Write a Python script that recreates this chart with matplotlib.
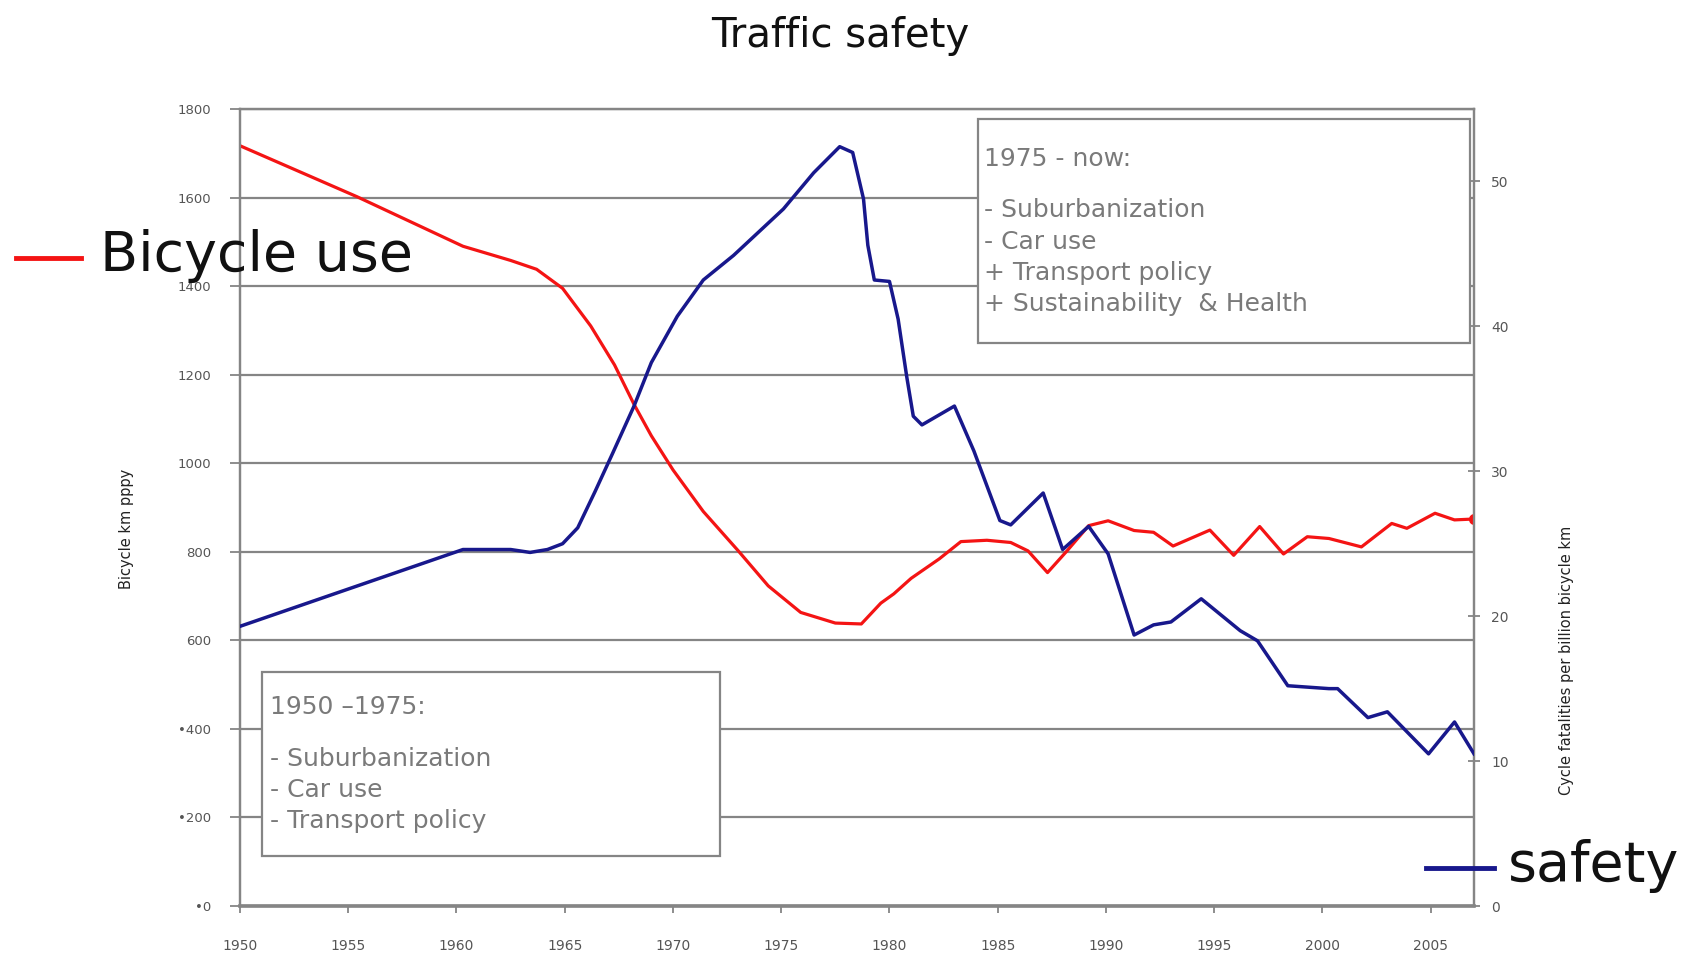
import matplotlib.pyplot as plt
from matplotlib.patches import Rectangle
from matplotlib.lines import Line2D

# bicycle use (km per person per year), left axis
bike_years = [1950.0, 1955.4, 1960.3, 1962.5, 1963.7, 1964.9, 1966.2, 1967.3, 1968.2,
              1969.0, 1970.0, 1971.4, 1973.0, 1974.4, 1975.9, 1977.5, 1978.7, 1979.6,
              1980.2, 1981.0, 1982.3, 1983.3, 1984.5, 1985.6, 1986.4, 1987.3, 1988.2,
              1989.2, 1990.1, 1991.3, 1992.2, 1993.1, 1994.8, 1995.9, 1997.1, 1998.2,
              1999.3, 2000.3, 2001.8, 2003.2, 2003.9, 2005.2, 2006.1, 2007.0]
bike_km = [1717, 1602, 1490, 1458, 1438, 1395, 1310, 1222, 1133,
           1062, 985, 891, 803, 723, 663, 639, 637, 684,
           705, 740, 784, 823, 826, 821, 802, 753, 802,
           859, 870, 848, 844, 813, 849, 792, 857, 795,
           834, 830, 811, 864, 853, 887, 872, 874]

# cycle fatalities per billion bicycle km, right axis
fat_years = [1950.0, 1960.3, 1962.5, 1963.4, 1964.2, 1964.9, 1965.6, 1966.4, 1967.2,
             1968.2, 1969.0, 1970.2, 1971.4, 1972.8, 1975.1, 1976.5, 1977.7, 1978.3,
             1978.8, 1979.0, 1979.3, 1980.0, 1980.4, 1980.8, 1981.1, 1981.5, 1983.0,
             1983.9, 1985.1, 1985.6, 1987.1, 1988.0, 1989.2, 1990.1, 1991.3, 1992.2,
             1993.0, 1994.4, 1996.2, 1997.0, 1998.4, 2000.3, 2000.7, 2002.1, 2003.0,
             2004.9, 2006.1, 2007.0]
fatalities = [19.3, 24.6, 24.6, 24.4, 24.6, 25.0, 26.1, 28.6, 31.2,
              34.5, 37.5, 40.7, 43.2, 44.9, 48.1, 50.6, 52.4, 52.0,
              48.8, 45.6, 43.2, 43.1, 40.5, 36.5, 33.8, 33.2, 34.5,
              31.4, 26.6, 26.3, 28.5, 24.6, 26.2, 24.3, 18.7, 19.4,
              19.6, 21.2, 19.0, 18.3, 15.2, 15.0, 15.0, 13.0, 13.4,
              10.5, 12.7, 10.5]

x_ticks = list(range(1950, 2006, 5))
left_ticks = list(range(0, 1801, 200))
left_labels = ['•0', '•200', '•400', '600', '800', '1000', '1200', '1400', '1600', '1800']
right_ticks = [0, 10, 20, 30, 40, 50]

box_early = ['1950 –1975:', '- Suburbanization', '- Car use', '- Transport policy']
box_late = ['1975 - now:', '- Suburbanization', '- Car use', '+ Transport policy',
            '+ Sustainability  & Health']

W, H = 1692, 958
grey = '#858585'
txt_grey = '#7a7a7a'
red = '#f41414'
blue = '#18188c'


def fx(px):
    return px / W


def fy(py):
    return 1 - py / H


fig = plt.figure(figsize=(W / 100, H / 100), dpi=100)
ax = fig.add_axes([fx(240), fy(906), fx(1474) - fx(240), fy(109) - fy(906)])
ax2 = ax.twinx()

ax.set_xlim(1950, 2007)
ax.set_ylim(0, 1800)
ax2.set_ylim(0, 55)

ax.set_yticks(left_ticks)
ax.set_yticklabels(left_labels)
ax.set_xticks(x_ticks)
ax2.set_yticks(right_ticks)
ax.yaxis.grid(True, color=grey, lw=1.6)
ax.set_axisbelow(True)

for a in (ax, ax2):
    for s in a.spines.values():
        a.spines[s.spine_type].set_color(grey)
        a.spines[s.spine_type].set_linewidth(1.6)
ax.spines['bottom'].set_linewidth(2.6)

ax.tick_params(axis='y', direction='out', length=7, width=1.3, color=grey,
               labelsize=9.5, labelcolor='#555555', pad=14)
ax.tick_params(axis='x', direction='out', length=5, width=1.3, color=grey,
               labelsize=10, labelcolor='#555555', pad=19)
ax2.tick_params(axis='y', direction='inout', length=9, width=1.3, color=grey,
                labelsize=10, labelcolor='#555555', pad=8)

ax.plot(bike_years, bike_km, color=red, lw=2.3, zorder=3)
ax.plot(bike_years[-1], bike_km[-1], 'o', color=red, ms=7, zorder=4)
ax2.plot(fat_years, fatalities, color=blue, lw=2.5, zorder=3)

fig.text(fx(840), fy(36), 'Traffic safety', ha='center', va='center', fontsize=29,
         color='#111111')

fig.text(fx(127), fy(529), 'Bicycle km pppy', rotation=90, ha='center', va='center',
         fontsize=10.5, color='#222222')
fig.text(fx(1566), fy(660), 'Cycle fatalities per billion bicycle km', rotation=90,
         ha='center', va='center', fontsize=10.5, color='#222222')

# annotation boxes
fig.add_artist(Rectangle((fx(978), fy(343)), fx(1470) - fx(978), fy(119) - fy(343),
                         transform=fig.transFigure, facecolor='white',
                         edgecolor=grey, lw=1.6, zorder=1))
fig.add_artist(Rectangle((fx(262), fy(856)), fx(720) - fx(262), fy(672) - fy(856),
                         transform=fig.transFigure, facecolor='white',
                         edgecolor=grey, lw=1.6, zorder=1))

for line, py in zip(box_late, [159, 210, 242, 273, 304]):
    fig.text(fx(984), fy(py), line, ha='left', va='center', fontsize=18, color=txt_grey)
for line, py in zip(box_early, [707, 759, 790, 821]):
    fig.text(fx(270), fy(py), line, ha='left', va='center', fontsize=18, color=txt_grey)

# big outside legend labels
fig.add_artist(Line2D([fx(16), fx(81)], [fy(258), fy(258)], color=red, lw=3.5,
                      transform=fig.transFigure))
fig.text(fx(100), fy(256), 'Bicycle use', ha='left', va='center', fontsize=40,
         color='#111111', zorder=5)
fig.add_artist(Line2D([fx(1426), fx(1494)], [fy(868), fy(868)], color=blue, lw=3.5,
                      transform=fig.transFigure))
fig.text(fx(1508), fy(866), 'safety', ha='left', va='center', fontsize=40,
         color='#111111', zorder=5)

fig.savefig('out.png', dpi=100)
